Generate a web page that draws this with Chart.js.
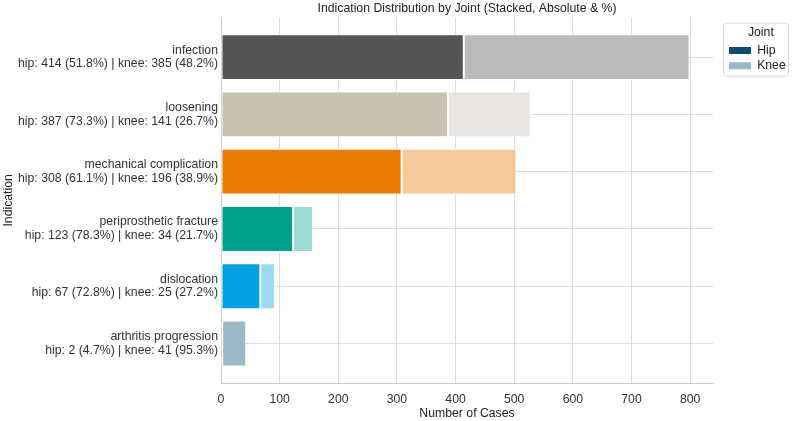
<!DOCTYPE html>
<html>
<head>
<meta charset="utf-8">
<script src="https://cdn.jsdelivr.net/npm/chart.js@4/dist/chart.umd.min.js"></script>
<style>
  html, body { margin: 0; padding: 0; background: #fff; }
  #wrap { width: 794px; height: 421px; }
</style>
</head>
<body>
<div id="wrap"><canvas id="myChart"></canvas></div>
<script>
var categories = ['infection', 'loosening', 'mechanical complication', 'periprosthetic fracture', 'dislocation', 'arthritis progression'];
var hipCounts = [414, 387, 308, 123, 67, 2];
var kneeCounts = [385, 141, 196, 34, 25, 41];
var hipColors = ['#555555', '#c9c0b0', '#e87b00', '#00a08b', '#00a0e2', '#0e4a6e'];
var kneeColors = ['#bbbbbb', '#e8e4df', '#f5c999', '#99dcd2', '#9bd9f4', '#9db9c8'];
var xTicks = [0, 100, 200, 300, 400, 500, 600, 700, 800];
var legendNames = ['Hip', 'Knee'];
var legendColors = ['#0e4a6e', '#9db9c8'];

var FONT = 'Liberation Sans, Arial, Helvetica, sans-serif';

function pct(a, b) { return (a / (a + b) * 100).toFixed(1); }

function tickLabel(i) {
  return [categories[i], 'hip: ' + hipCounts[i] + ' (' + pct(hipCounts[i], kneeCounts[i]) + '%) | knee: ' +
    kneeCounts[i] + ' (' + pct(kneeCounts[i], hipCounts[i]) + '%)'];
}

// legend sits outside the plot on the right, with a light frame
var legendFrame = {
  id: 'legendFrame',
  afterLayout: function(chart) {
    var lg = chart.legend, area = chart.chartArea;
    var w = lg.width;
    lg.left = area.right + 13;
    lg.right = lg.left + w;
    lg.top = area.top;
  },
  afterDraw: function(chart) {
    var lg = chart.legend, ctx = chart.ctx;
    ctx.save();
    ctx.strokeStyle = '#d9d9d9';
    ctx.lineWidth = 1;
    ctx.beginPath();
    ctx.roundRect(lg.left - 2.5, lg.top + 5.5, 65, 53, 3);
    ctx.stroke();
    ctx.restore();
  }
};

var ctx = document.getElementById('myChart').getContext('2d');
var myChart = new Chart(ctx, {
  type: 'bar',
  data: {
    datasets: [{
      label: 'Hip',
      data: hipCounts.map(function(v, i) { return {x: v, y: i}; }),
      backgroundColor: hipColors
    }, {
      label: 'Knee',
      data: kneeCounts.map(function(v, i) { return {x: v, y: i}; }),
      backgroundColor: kneeColors
    }]
  },
  options: {
    indexAxis: 'y',
    responsive: true,
    maintainAspectRatio: false,
    animation: false,
    layout: { padding: { left: 0, right: 81, top: 0, bottom: 0 } },
    datasets: {
      bar: {
        barPercentage: 0.8,
        categoryPercentage: 1,
        borderColor: '#ffffff',
        borderWidth: 1,
        borderSkipped: false
      }
    },
    scales: {
      x: {
        type: 'linear',
        stacked: true,
        min: 0,
        max: 839,
        afterBuildTicks: function(s) { s.ticks = xTicks.map(function(v) { return {value: v}; }); },
        afterFit: function(s) { s.height = 38; },
        ticks: { color: '#333', font: { family: FONT, size: 12.25 }, padding: 9 },
        grid: { color: '#dddddd', lineWidth: 1, drawTicks: false },
        border: { color: '#cccccc', width: 1 },
        title: { display: true, text: 'Number of Cases', color: '#222', font: { family: FONT, size: 12.25 }, padding: { top: 0, bottom: 0.5 } }
      },
      y: {
        type: 'linear',
        stacked: true,
        reverse: true,
        offset: false,
        min: -0.69,
        max: 5.69,
        afterBuildTicks: function(s) { s.ticks = categories.map(function(c, i) { return {value: i}; }); },
        afterFit: function(s) { s.width = 221; },
        ticks: {
          color: '#333',
          font: { family: FONT, size: 12.25, lineHeight: 1.12 },
          padding: 3,
          callback: function(v) { return tickLabel(Math.round(v)); }
        },
        grid: { color: '#dddddd', lineWidth: 1, drawTicks: false, offset: false },
        border: { color: '#cccccc', width: 1 },
        title: { display: true, text: 'Indication', color: '#222', font: { family: FONT, size: 12.25 }, padding: { top: 1, bottom: 2 } }
      }
    },
    plugins: {
      title: {
        display: true,
        fullSize: false,
        text: 'Indication Distribution by Joint (Stacked, Absolute & %)',
        color: '#222',
        font: { family: FONT, size: 12.25, weight: 'normal' },
        padding: { top: 1, bottom: 2 }
      },
      legend: {
        display: true,
        position: 'chartArea',
        align: 'start',
        title: { display: true, text: 'Joint', color: '#222', font: { family: FONT, size: 12.25 }, padding: { top: 9, bottom: 0 } },
        labels: {
          color: '#222',
          font: { family: FONT, size: 12.25 },
          boxWidth: 22,
          boxHeight: 7,
          padding: 3,
          generateLabels: function() {
            return legendNames.map(function(n, i) {
              return { text: n, fillStyle: legendColors[i], strokeStyle: legendColors[i], lineWidth: 0, hidden: false, datasetIndex: i };
            });
          }
        }
      },
      tooltip: { enabled: false }
    }
  },
  plugins: [legendFrame]
});
</script>
</body>
</html>
